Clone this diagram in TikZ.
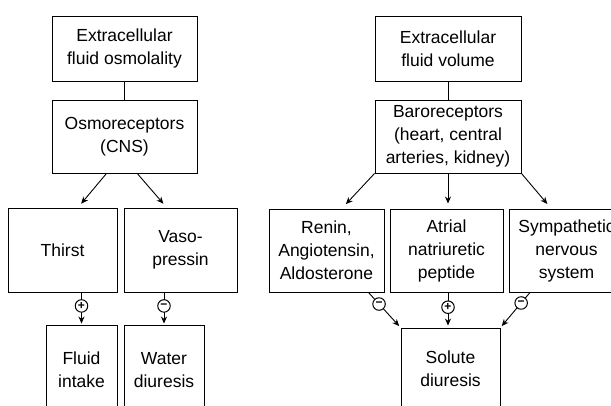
\documentclass[tikz,border=0pt]{standalone}
\usepackage{fontspec}
\setmainfont{Liberation Sans}
\usetikzlibrary{arrows.meta}
\begin{document}
\begin{tikzpicture}[->,>={Stealth[length=7pt,width=6pt]},x=1pt,y=-1pt,line width=0.9pt,box node/.style={draw,rectangle,align=center,inner sep=0pt,font=\fontsize{17.5}{23}\selectfont},sign node/.style={circle,draw,fill=white,inner sep=0pt,minimum size=12.5pt,line width=1pt,font=\fontsize{12}{12}\selectfont\bfseries}]
\useasboundingbox (0,0) rectangle (611,405);
\clip (0,0) rectangle (611,405);
% osmolality side
\node[box node,minimum width=145pt,minimum height=65pt] (1) at (124.5,48.5) {Extracellular\\fluid osmolality};
\node[box node,minimum width=145pt,minimum height=73pt] (2) at (124.5,136.5) {Osmoreceptors\\(CNS)};
\node[box node,minimum width=109pt,minimum height=84pt] (3) at (62.5,250) {Thirst};
\node[box node,minimum width=113pt,minimum height=84pt] (4) at (180.5,250) {Vaso-\\pressin};
\node[box node,minimum width=71pt,minimum height=90pt] (5) at (81.5,370) {Fluid\\intake};
\node[box node,minimum width=80pt,minimum height=90pt] (6) at (164,370) {Water\\diuresis};
% volume side
\node[box node,minimum width=146pt,minimum height=65pt] (7) at (448,48.5) {Extracellular\\fluid volume};
\node[box node,minimum width=146pt,minimum height=73pt] (8) at (448,136.5) {Baroreceptors\\(heart, central\\arteries, kidney)};
\node[box node,minimum width=115pt,minimum height=83pt] (9) at (326.5,250.5) {Renin,\\Angiotensin,\\Aldosterone};
\node[box node,minimum width=113pt,minimum height=83pt] (10) at (446.5,250.5) {Atrial\\natriuretic\\peptide};
\node[box node,minimum width=115pt,minimum height=83pt] (11) at (566.5,250.5) {Sympathetic\\nervous\\system};
\node[box node,minimum width=99pt,minimum height=82pt] (12) at (450.5,369) {Solute\\diuresis};
\draw[-] (1) -- (2);
\draw[shorten >=5pt] (2.-116) -- (3.70);
\draw[shorten >=5pt] (2.-71) -- (4.108);
\draw[shorten >=1pt] (5.north |- 3.south) -- node[sign node,pos=.42] (13) {+} (5.north);
\draw[shorten >=1pt] (6.north |- 4.south) -- node[sign node,pos=.42] (14) {\symbol{"2212}} (6.north);
\draw[-] (7) -- (8);
\draw[shorten >=6pt] (8.south west) -- (9.70);
\draw[shorten >=5pt] (8.south) -- (8.south |- 10.north);
\draw[shorten >=6pt] (8.south east) -- (11.110);
\draw[shorten >=2pt] (9.-45) -- node[sign node,pos=.33] (15) {\symbol{"2212}} (12.north west);
\draw[shorten >=2pt] (10.south -| 8.south) -- node[sign node,pos=.42] (16) {+} (8.south |- 12.north);
\draw[shorten >=2pt] (11.-131) -- node[sign node,pos=.3] (17) {\symbol{"2212}} (12.north east);
\end{tikzpicture}
\end{document}
